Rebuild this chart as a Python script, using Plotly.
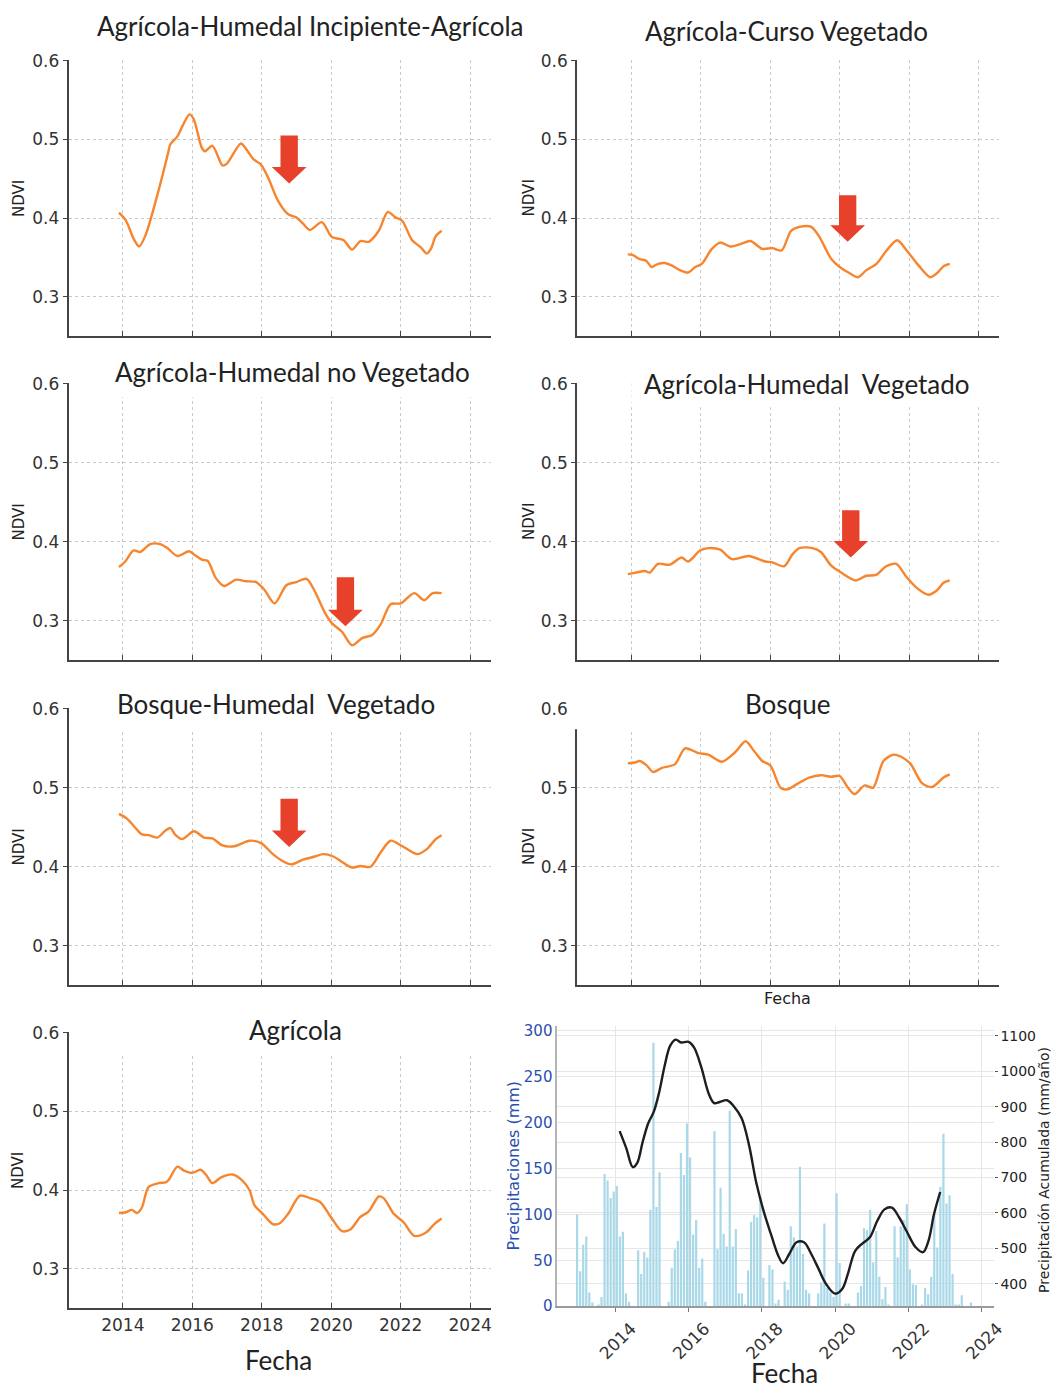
import numpy as np
import plotly.graph_objects as go

W, H = 1060, 1387
FW, FH = 1075, H
# the page comes out photographed slightly shrunk and offset; map picture pixels back to figure pixels
OFF_X, SC_X = 7.3, 0.987
OFF_Y, SC_Y = 16.8, 0.987

# NDVI series (decimal year, NDVI)
anio_incipiente = [2013.89, 2014.09, 2014.31, 2014.47, 2014.65, 2014.98, 2015.30, 2015.37, 2015.57, 2015.75,
                   2015.92, 2016.04, 2016.27, 2016.36, 2016.58, 2016.87, 2016.99, 2017.40, 2017.55, 2017.76,
                   2017.98, 2018.18, 2018.47, 2018.76, 2019.00, 2019.19, 2019.39, 2019.73, 2020.02, 2020.36,
                   2020.60, 2020.84, 2021.08, 2021.37, 2021.63, 2021.85, 2022.04, 2022.33, 2022.58, 2022.75,
                   2022.87, 2023.01, 2023.18]
ndvi_incipiente = [0.407, 0.397, 0.374, 0.364, 0.378, 0.427, 0.482, 0.494, 0.504, 0.520,
                   0.532, 0.526, 0.490, 0.485, 0.492, 0.467, 0.469, 0.495, 0.488, 0.475,
                   0.468, 0.452, 0.422, 0.405, 0.401, 0.393, 0.385, 0.395, 0.376, 0.372,
                   0.360, 0.371, 0.370, 0.384, 0.408, 0.401, 0.397, 0.372, 0.363, 0.355,
                   0.361, 0.377, 0.384]

anio_curso = [2013.90, 2014.05, 2014.24, 2014.43, 2014.58, 2014.77, 2014.97, 2015.16, 2015.40, 2015.64,
              2015.84, 2016.03, 2016.32, 2016.56, 2016.85, 2017.14, 2017.43, 2017.77, 2018.06, 2018.33,
              2018.60, 2018.84, 2019.18, 2019.42, 2019.76, 2020.00, 2020.29, 2020.53, 2020.77, 2021.06,
              2021.35, 2021.66, 2021.93, 2022.27, 2022.61, 2022.80, 2022.99, 2023.17]
ndvi_curso = [0.354, 0.353, 0.348, 0.346, 0.338, 0.342, 0.343, 0.340, 0.334, 0.331,
              0.338, 0.342, 0.361, 0.369, 0.364, 0.367, 0.371, 0.361, 0.362, 0.359,
              0.384, 0.389, 0.389, 0.376, 0.348, 0.338, 0.330, 0.325, 0.334, 0.342,
              0.359, 0.372, 0.359, 0.340, 0.325, 0.330, 0.339, 0.342]

anio_no_veg = [2013.89, 2014.07, 2014.31, 2014.50, 2014.79, 2015.08, 2015.28, 2015.57, 2015.91, 2016.05,
               2016.29, 2016.44, 2016.68, 2016.92, 2017.26, 2017.55, 2017.84, 2018.08, 2018.37, 2018.71,
               2019.00, 2019.29, 2019.53, 2019.82, 2020.02, 2020.31, 2020.60, 2020.89, 2021.18, 2021.42,
               2021.71, 2022.00, 2022.39, 2022.68, 2022.92, 2023.18]
ndvi_no_veg = [0.368, 0.375, 0.389, 0.387, 0.397, 0.397, 0.392, 0.382, 0.388, 0.384,
               0.377, 0.376, 0.354, 0.344, 0.352, 0.350, 0.349, 0.339, 0.322, 0.345,
               0.349, 0.353, 0.337, 0.310, 0.297, 0.286, 0.269, 0.278, 0.282, 0.295,
               0.321, 0.322, 0.335, 0.326, 0.335, 0.335]

anio_veg = [2013.90, 2014.14, 2014.39, 2014.53, 2014.77, 2015.11, 2015.45, 2015.64, 2015.98, 2016.22,
            2016.56, 2016.90, 2017.38, 2017.86, 2018.06, 2018.40, 2018.64, 2018.84, 2019.22, 2019.46,
            2019.75, 2020.04, 2020.47, 2020.76, 2021.05, 2021.34, 2021.63, 2021.93, 2022.21, 2022.55,
            2022.79, 2022.99, 2023.17]
ndvi_veg = [0.359, 0.361, 0.363, 0.361, 0.372, 0.371, 0.380, 0.375, 0.389, 0.392,
            0.390, 0.378, 0.382, 0.375, 0.374, 0.369, 0.384, 0.392, 0.392, 0.387,
            0.370, 0.361, 0.351, 0.357, 0.358, 0.369, 0.372, 0.355, 0.342, 0.333,
            0.338, 0.348, 0.351]

anio_bosque_hum = [2013.89, 2014.12, 2014.31, 2014.55, 2014.74, 2014.99, 2015.23, 2015.37, 2015.52, 2015.71,
                   2016.05, 2016.34, 2016.58, 2016.87, 2017.21, 2017.65, 2017.98, 2018.32, 2018.61, 2018.85,
                   2019.19, 2019.53, 2019.77, 2020.06, 2020.35, 2020.60, 2020.84, 2021.13, 2021.42, 2021.71,
                   2022.05, 2022.48, 2022.77, 2023.01, 2023.18]
ndvi_bosque_hum = [0.467, 0.461, 0.452, 0.441, 0.440, 0.437, 0.446, 0.449, 0.440, 0.435,
                   0.445, 0.437, 0.436, 0.427, 0.426, 0.433, 0.430, 0.416, 0.407, 0.403,
                   0.409, 0.413, 0.416, 0.413, 0.405, 0.399, 0.401, 0.400, 0.418, 0.433,
                   0.426, 0.416, 0.423, 0.435, 0.440]

anio_bosque = [2013.90, 2014.10, 2014.24, 2014.43, 2014.63, 2014.87, 2015.26, 2015.55, 2015.93, 2016.22,
               2016.61, 2016.99, 2017.29, 2017.53, 2017.77, 2018.01, 2018.30, 2018.50, 2018.78, 2019.12,
               2019.46, 2019.75, 2020.00, 2020.24, 2020.43, 2020.72, 2020.96, 2021.26, 2021.55, 2021.74,
               2022.03, 2022.37, 2022.66, 2022.99, 2023.17]
ndvi_bosque = [0.531, 0.532, 0.534, 0.529, 0.520, 0.525, 0.530, 0.550, 0.544, 0.542,
               0.533, 0.545, 0.559, 0.547, 0.534, 0.528, 0.500, 0.498, 0.505, 0.513,
               0.516, 0.514, 0.515, 0.500, 0.492, 0.503, 0.500, 0.534, 0.542, 0.540,
               0.531, 0.506, 0.501, 0.513, 0.517]

anio_agricola = [2013.89, 2014.09, 2014.26, 2014.41, 2014.55, 2014.74, 2015.03, 2015.23, 2015.32, 2015.57,
                 2015.76, 2016.00, 2016.24, 2016.39, 2016.58, 2016.82, 2017.16, 2017.45, 2017.65, 2017.79,
                 2018.03, 2018.32, 2018.52, 2018.76, 2019.10, 2019.39, 2019.68, 2020.02, 2020.31, 2020.55,
                 2020.84, 2021.08, 2021.37, 2021.51, 2021.80, 2022.09, 2022.39, 2022.72, 2022.97, 2023.18]
ndvi_agricola = [0.371, 0.372, 0.375, 0.371, 0.378, 0.404, 0.409, 0.410, 0.413, 0.430,
                 0.425, 0.422, 0.426, 0.420, 0.409, 0.416, 0.420, 0.412, 0.400, 0.381,
                 0.370, 0.357, 0.358, 0.370, 0.393, 0.390, 0.385, 0.364, 0.348, 0.350,
                 0.366, 0.373, 0.392, 0.390, 0.370, 0.359, 0.342, 0.346, 0.357, 0.364]

# monthly precipitation (mm), Dec 2012 onwards
precip_mm = [100, 38, 67, 76, 15, 4, 0, 2, 10, 144,
             137, 118, 125, 131, 76, 81, 14, 5, 0, 0,
             61, 35, 59, 53, 105, 287, 108, 146, 0, 0,
             5, 42, 62, 71, 167, 143, 199, 162, 78, 94,
             42, 52, 5, 0, 0, 191, 62, 129, 79, 65,
             213, 65, 84, 14, 14, 2, 39, 92, 99, 97,
             118, 31, 0, 45, 40, 3, 7, 0, 27, 18,
             87, 75, 65, 152, 57, 18, 14, 0, 0, 14,
             26, 90, 20, 15, 10, 123, 47, 0, 3, 3,
             0, 0, 15, 22, 85, 83, 105, 48, 82, 32,
             8, 21, 2, 0, 87, 53, 87, 94, 111, 40,
             24, 23, 0, 2, 20, 13, 32, 101, 64, 130,
             188, 112, 121, 35, 2, 2, 12, 0, 0, 4]

# accumulated precipitation (mm/año)
anio_acum = [2014.12, 2014.30, 2014.48, 2014.60, 2014.75, 2014.90, 2015.05, 2015.20, 2015.35, 2015.50,
             2015.65, 2015.80, 2016.00, 2016.15, 2016.35, 2016.55, 2016.70, 2016.85, 2017.05, 2017.25,
             2017.45, 2017.65, 2017.85, 2018.05, 2018.25, 2018.45, 2018.58, 2018.75, 2018.95, 2019.15,
             2019.35, 2019.55, 2019.75, 2020.00, 2020.20, 2020.35, 2020.55, 2020.75, 2020.95, 2021.15,
             2021.35, 2021.55, 2021.75, 2021.95, 2022.20, 2022.40, 2022.55, 2022.70, 2022.87]
precip_acum = [831, 783, 729, 741, 801, 853, 885, 941, 1016, 1072,
               1089, 1081, 1083, 1067, 1011, 937, 910, 913, 918, 899,
               867, 792, 685, 605, 540, 479, 458, 484, 517, 517,
               484, 442, 400, 372, 386, 428, 493, 514, 531, 577,
               610, 615, 587, 549, 503, 489, 521, 596, 659]

# month centres for the bars, starting Dec 2012
meses = 2012 + (np.arange(11, 11 + len(precip_mm)) + 0.5) / 12

anios_tick = [2014, 2016, 2018, 2020, 2022, 2024]
ndvi_tick = [0.3, 0.4, 0.5, 0.6]

NARANJA = "#f7852e"
ROJO = "#e8412b"
TXT = "#222222"
EJE = "#444444"
AZUL = "#2b4fae"


def fx(p):
    return ((p - OFF_X) / SC_X) / FW


def fy(p):
    return 1 - ((p - OFF_Y) / SC_Y) / FH


paneles = [
    dict(t="Agrícola-Humedal Incipiente-Agrícola", x=anio_incipiente, y=ndvi_incipiente,
         xd=(68, 490), yd=(60, 336), tp=(310, 26), flecha=(2018.79, 0.505, 0.444)),
    dict(t="Agrícola-Curso Vegetado", x=anio_curso, y=ndvi_curso,
         xd=(576, 997), yd=(60, 336), tp=(785, 31), flecha=(2020.23, 0.429, 0.370)),
    dict(t="Agrícola-Humedal no Vegetado", x=anio_no_veg, y=ndvi_no_veg,
         xd=(68, 490), yd=(383, 660), tp=(292, 372), flecha=(2020.41, 0.355, 0.293)),
    dict(t="Agrícola-Humedal  Vegetado", x=anio_veg, y=ndvi_veg,
         xd=(576, 997), yd=(383, 660), tp=(806, 384), flecha=(2020.32, 0.440, 0.380)),
    dict(t="Bosque-Humedal  Vegetado", x=anio_bosque_hum, y=ndvi_bosque_hum,
         xd=(68, 490), yd=(708, 985), tp=(275, 704), flecha=(2018.79, 0.486, 0.425)),
    dict(t="Bosque", x=anio_bosque, y=ndvi_bosque,
         xd=(576, 997), yd=(708, 985), tp=(786, 704), flecha=None),
    dict(t="Agrícola", x=anio_agricola, y=ndvi_agricola,
         xd=(68, 490), yd=(1032, 1308), tp=(295, 1030), flecha=None),
]

fig = go.Figure()
layout = dict(width=FW, height=FH, margin=dict(l=0, r=0, t=0, b=0),
              paper_bgcolor="white", plot_bgcolor="white", showlegend=False)
annotations = []
shapes = []

for i, p in enumerate(paneles, start=1):
    xa = "x" if i == 1 else f"x{i}"
    ya = "y" if i == 1 else f"y{i}"
    fig.add_trace(go.Scatter(x=p["x"], y=p["y"], mode="lines", xaxis=xa, yaxis=ya,
                             line=dict(color=NARANJA, width=2.4, shape="spline", smoothing=0.8)))
    x0, x1 = p["xd"]
    y0, y1 = p["yd"]
    span = (x1 - x0) / 34.7
    left = 2014 - (122 - 68) / 34.7
    layout["xaxis" if i == 1 else f"xaxis{i}"] = dict(
        domain=[fx(x0), fx(x1)], anchor=ya, range=[left, left + span],
        tickvals=anios_tick, showticklabels=(i == 7),
        tickfont=dict(family="DejaVu Sans", size=17, color="#333"),
        showgrid=True, gridcolor="#c9c9c9", griddash="dot", gridwidth=1,
        showline=True, linecolor=EJE, linewidth=2, ticks="inside", ticklen=5,
        tickcolor=EJE, zeroline=False)
    layout["yaxis" if i == 1 else f"yaxis{i}"] = dict(
        domain=[fy(y1), fy(y0)], anchor=xa, range=[0.25, 0.6008],
        tickvals=ndvi_tick, ticktext=["0.3", "0.4", "0.5", "0.6"],
        tickfont=dict(family="DejaVu Sans", size=17, color="#333"),
        showgrid=True, gridcolor="#c9c9c9", griddash="dot", gridwidth=1,
        showline=True, linecolor=EJE, linewidth=2, ticks="outside", ticklen=4,
        tickcolor=EJE, zeroline=False)
    annotations.append(dict(text=p["t"], x=fx(p["tp"][0]), y=fy(p["tp"][1]), xref="paper", yref="paper",
                            showarrow=False, xanchor="center", yanchor="middle",
                            font=dict(family="Lato", size=26, color=TXT)))
    nx = 18 if x0 < 300 else 528
    annotations.append(dict(text="NDVI", x=fx(nx), y=fy((y0 + y1) / 2), xref="paper", yref="paper",
                            showarrow=False, textangle=-90, xanchor="center", yanchor="middle",
                            font=dict(family="DejaVu Sans", size=15, color=TXT)))
    if p["flecha"]:
        xc, top, tip = p["flecha"]
        hh = 0.021
        path = (f"M {xc-0.25},{top} L {xc+0.25},{top} L {xc+0.25},{tip+hh} L {xc+0.5},{tip+hh} "
                f"L {xc},{tip} L {xc-0.5},{tip+hh} L {xc-0.25},{tip+hh} Z")
        shapes.append(dict(type="path", path=path, xref=xa, yref=ya, fillcolor=ROJO,
                           line=dict(width=0), layer="above"))

# white patches where the original collage hides grid tops
for (a, b, c, d) in [(100, 362, 495, 397), (630, 368, 1005, 407), (100, 690, 495, 729),
                     (566, 690, 1005, 729), (84, 1015, 495, 1054)]:
    shapes.append(dict(type="rect", xref="paper", yref="paper", x0=fx(a), x1=fx(c), y0=fy(d), y1=fy(b),
                       fillcolor="white", line=dict(width=0), layer="above"))

# precipitation panel
fig.add_trace(go.Bar(x=meses, y=precip_mm, xaxis="x8", yaxis="y8", width=0.06,
                     marker=dict(color="#a9d8e8", line=dict(width=0))))
fig.add_trace(go.Scatter(x=anio_acum, y=precip_acum, mode="lines", xaxis="x8", yaxis="y9",
                         line=dict(color="#1e1e1e", width=2.4, shape="spline", smoothing=1.0)))

px_anio = 36.6
izq = 2014 - (614 - 556) / px_anio
layout["xaxis8"] = dict(domain=[fx(556), fx(992)], anchor="y8", range=[izq, izq + (992 - 556) / px_anio],
                        tickvals=anios_tick, tickangle=-45, ticklabelshift=16,
                        tickfont=dict(family="DejaVu Sans", size=17, color="#333"),
                        showgrid=True, gridcolor="#e6e6e6", gridwidth=1,
                        showline=True, linecolor="#9a9a9a", linewidth=1.5,
                        ticks="outside", ticklen=4, tickcolor="#777", zeroline=False)
layout["yaxis8"] = dict(domain=[fy(1306), fy(1026)], anchor="x8", range=[0, 305],
                        tickvals=[0, 50, 100, 150, 200, 250, 300],
                        tickfont=dict(family="DejaVu Sans", size=15, color=AZUL),
                        showgrid=True, gridcolor="#e6e6e6", gridwidth=1,
                        showline=True, linecolor="#b5b5b5", linewidth=1.5,
                        ticks="", zeroline=False)
layout["yaxis9"] = dict(overlaying="y8", side="right", anchor="x8", range=[336.5, 1127],
                        tickvals=[400, 500, 600, 700, 800, 900, 1000, 1100],
                        tickfont=dict(family="DejaVu Sans", size=14, color=TXT),
                        showgrid=True, gridcolor="#e6e6e6", gridwidth=1,
                        showline=False, ticks="outside", ticklen=3, tickcolor="#555",
                        zeroline=False)

annotations += [
    dict(text="Precipitaciones (mm)", x=fx(512), y=fy(1166), textangle=-90,
         font=dict(family="DejaVu Sans", size=16, color=AZUL)),
    dict(text="Precipitación Acumulada (mm/año)", x=fx(1043), y=fy(1170), textangle=-90,
         font=dict(family="DejaVu Sans", size=14, color=TXT)),
    dict(text="Fecha", x=fx(783), y=fy(1373), font=dict(family="Lato", size=26, color=TXT)),
    dict(text="Fecha", x=fx(278), y=fy(1360), font=dict(family="Lato", size=26, color=TXT)),
    dict(text="Fecha", x=fx(786), y=fy(998), font=dict(family="DejaVu Sans", size=16, color=TXT)),
]
for a in annotations[-5:]:
    a.update(xref="paper", yref="paper", showarrow=False, xanchor="center", yanchor="middle")

layout["annotations"] = annotations
layout["shapes"] = shapes
fig.update_layout(**layout)

fig.write_html("out.html")
